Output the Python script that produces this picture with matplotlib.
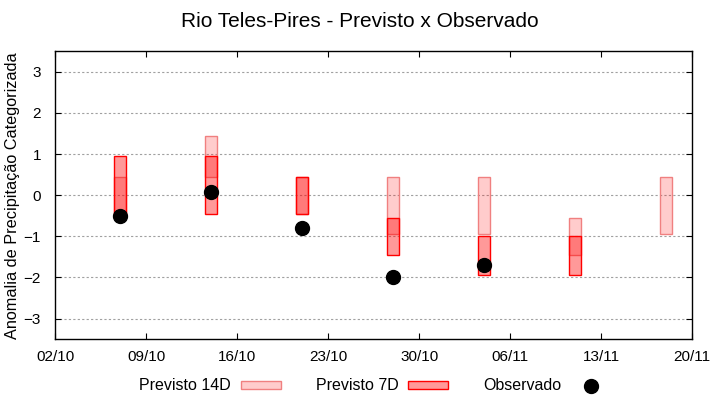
import matplotlib
matplotlib.use('Agg')
import matplotlib.pyplot as plt
import matplotlib.dates as mdates
from datetime import datetime, timedelta

plt.rcParams['font.family'] = ['Liberation Sans', 'DejaVu Sans']

# dados
datas14 = ['07/10', '14/10', '21/10', '28/10', '04/11', '11/11', '18/11']
p14_min = [-0.45, 0.45, -0.45, -0.95, -0.95, -1.45, -0.95]
p14_max = [0.45, 1.45, 0.45, 0.45, 0.45, -0.55, 0.45]

datas7 = ['07/10', '14/10', '21/10', '28/10', '04/11', '11/11']
p7_min = [-0.45, -0.45, -0.45, -1.45, -1.95, -1.95]
p7_max = [0.95, 0.95, 0.45, -0.55, -1.0, -1.0]

datas_obs = ['07/10', '14/10', '21/10', '28/10', '04/11']
observado = [-0.5, 0.07, -0.8, -2.0, -1.7]

ano = 2019
def conv(lista):
    return [datetime.strptime(d + '/' + str(ano), '%d/%m/%Y') for d in lista]

x14 = conv(datas14)
x7 = conv(datas7)
xobs = conv(datas_obs)

fig = plt.figure(figsize=(7.2, 4), dpi=100)
ax = fig.add_axes([0.0764, 0.152, 0.885, 0.72])

alt14 = [b - a for a, b in zip(p14_min, p14_max)]
alt7 = [b - a for a, b in zip(p7_min, p7_max)]

b14 = ax.bar(x14, alt14, bottom=p14_min, width=0.9, facecolor=(1, 0, 0, 0.2),
             edgecolor='#f08080', linewidth=1, label='Previsto 14D', zorder=2)
b7 = ax.bar(x7, alt7, bottom=p7_min, width=0.9, facecolor=(1, 0, 0, 0.4),
            edgecolor='red', linewidth=1, label='Previsto 7D', zorder=3)
pobs, = ax.plot(xobs, observado, 'o', color='black', markersize=10, label='Observado', zorder=4)

inicio = datetime(ano, 10, 2)
fim = datetime(ano, 11, 20)
ax.set_xlim(inicio, fim)
ax.set_ylim(-3.5, 3.5)
ax.set_xticks([inicio + timedelta(days=7 * i) for i in range(8)])
ax.xaxis.set_major_formatter(mdates.DateFormatter('%d/%m'))
ax.set_yticks(range(-3, 4))

ax.yaxis.grid(True, color='#a0a0a0', linestyle=(0, (2, 2)), linewidth=0.8)
ax.set_axisbelow(True)
ax.tick_params(direction='in', top=True, right=True, length=4, labelsize=11, pad=8)
ax.tick_params(axis='y', pad=10)
for s in ax.spines.values():
    s.set_linewidth(1)

ax.set_ylabel('Anomalia de Precipitação Categorizada', fontsize=11.7)
ax.yaxis.set_label_coords(-0.055, 0.5)
fig.suptitle('Rio Teles-Pires - Previsto x Observado', fontsize=15, y=0.97)

fig.legend(handles=[b14, b7, pobs], loc='center', bbox_to_anchor=(0.521, 0.035), ncol=3,
           frameon=False, markerfirst=False, fontsize=11.5, handlelength=2.5,
           handleheight=0.35, columnspacing=2.2, handletextpad=0.6)

plt.savefig('out.png', dpi=100)
